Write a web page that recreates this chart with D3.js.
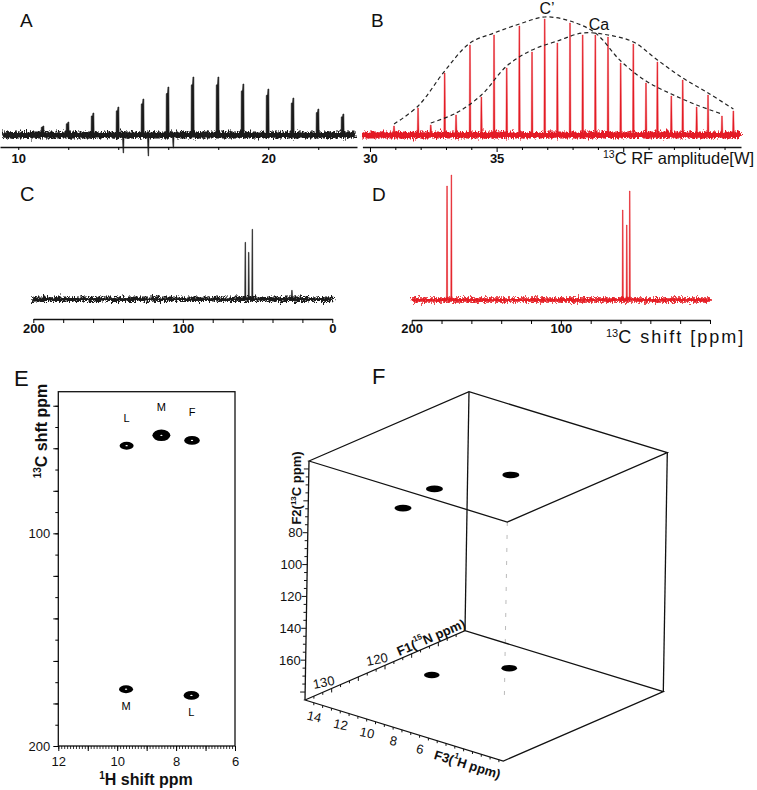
<!DOCTYPE html>
<html><head><meta charset="utf-8">
<script src="https://cdn.jsdelivr.net/npm/d3@7"></script>
<style>
body{margin:0;background:#fff;}
svg{display:block;font-family:"Liberation Sans",Arial,Helvetica,sans-serif;}
</style></head><body>
<svg id="fig" width="757" height="790"></svg>
<script>
// ===== DATA =====
// Panel A (black): peak positions and intensities (a.u.)
const aPeakPos = [11,12,13,14,15,16,17,18,19,20,21,22,23];
const aPeakInt = [9,13,22,28,36,48,58,58,51,46,37,26,21];
const aNegPos  = [14.2,15.2,16.2];
const aNegInt  = [-18,-21,-13];
const aTickLabels = [10,20];

// Panel B (red): C' and Ca peak series vs 13C RF amplitude [W]
const bCpPos = [30.95,31.9,32.95,33.95,34.9,35.9,36.9,37.9,38.9,39.9,40.9,41.9,42.9,43.9];
const bCpInt = [9,27,62,90,100,109,116,112,100,72,52,39,28,19];
const bCaPos = [32.4,33.4,34.4,35.4,36.4,37.4,38.4,39.4,40.4,41.35,42.35,43.35,44.35];
const bCaInt = [10,20,38,67,83,92,100,98,91,73,55,40,24];
const bTickLabels = [30,35];

// Panel C / D: 13C shift spectra
const cPeakPos = [58.2,55.9,53.5,27];
const cPeakInt = [57,47,70,9];
const dPeakPos = [176.3,173.4,58.5,55.8,53.8];
const dPeakInt = [114,125,90,75,109];
const cTickLabels = [200,100,0];
const dTickLabels = [200,100];

// Panel E: 2D 1H-13C peaks
const eLabels = ["L","M","F","M","L"];
const eH = [9.68,8.5,7.46,9.7,7.48];
const eC = [58.8,53.9,56.3,173.3,176.2];
const eInt = [0.9,1.15,1.0,0.9,1.0];
const eYLabels = [100,200];
const eXLabels = [12,10,8,6];

// Panel F: 3D peaks (F3 1H, F1 15N, F2 13C)
const fH = [9.26,9.35,8.04,10.33,7.6];
const fN = [131.5,125.4,114.3,122.85,115.1];
const fC = [55,52,56,175,175];
const fF2Labels = [80,100,120,140,160];
const fF1Labels = [130,120];
const fF3Labels = [14,12,10,8,6];

// ===== DRAWING =====
const svg = d3.select("#fig");
const defs = svg.append("defs");
const BLACK = "#1b1b1b", RED = "#e41d25";

function noiseFilter(id, freq, scale, seed){
  const f = defs.append("filter").attr("id",id).attr("filterUnits","userSpaceOnUse")
    .attr("x",0).attr("y",0).attr("width",757).attr("height",790);
  f.append("feTurbulence").attr("type","fractalNoise").attr("baseFrequency",freq)
    .attr("numOctaves",2).attr("seed",seed).attr("result","t");
  f.append("feDisplacementMap").attr("in","SourceGraphic").attr("in2","t")
    .attr("scale",scale).attr("xChannelSelector","R").attr("yChannelSelector","G");
}
const noiseIds = [];
[[1,"0.7 0.2",13],[2,"0.9 0.3",12],[3,"0.6 0.15",14],[4,"1.1 0.4",11],[5,"0.8 0.25",13]].forEach(([s,f,sc])=>{
  noiseFilter("n"+s,f,sc,s*3+1); noiseIds.push("n"+s);
});

function letter(t,x,y,size){
  svg.append("text").attr("x",x).attr("y",y).attr("font-size",size).attr("fill","#111").text(t);
}

function noisyBaseline(x,y,lo,hi,color,core,w,nLayers){
  svg.append("line").attr("x1",x(lo)).attr("x2",x(hi)).attr("y1",y(0)).attr("y2",y(0))
    .attr("stroke",color).attr("stroke-width",core);
  noiseIds.slice(0,nLayers).forEach(id=>{
    svg.append("line").attr("x1",x(lo)).attr("x2",x(hi)).attr("y1",y(0)).attr("y2",y(0))
      .attr("stroke",color).attr("stroke-width",w).attr("filter",`url(#${id})`);
  });
}
const line = d3.line();

// ---------- Panel A ----------
const ax = d3.scaleLinear().domain([9.27,23.55]).range([0,357]);
const ay = d3.scaleLinear().domain([0,120]).range([135,15]);
noisyBaseline(ax,ay,9.4,23.45,BLACK,4,3,5);
aPeakPos.forEach((p,i)=>{
  const x=ax(p), y0=ay(0), y1=ay(aPeakInt[i]), dh=y1-y0;
  const pts=[[x-2.2,y0],[x-2,y0+0.86*dh],[x-0.7,y0+0.88*dh],[x-0.3,y1],[x+0.6,y1],[x+0.9,y0]];
  svg.append("path").attr("d",line(pts)+"Z").attr("fill",BLACK).attr("stroke",BLACK).attr("stroke-width",0.6);
});
aNegPos.forEach((p,i)=>{
  const x=ax(p), y0=ay(0), y1=ay(aNegInt[i]);
  svg.append("path").attr("d",line([[x-0.9,y0],[x-0.2,y1],[x+0.4,y1],[x+0.9,y0]])+"Z").attr("fill",BLACK).attr("stroke",BLACK).attr("stroke-width",0.5);
});
const aAxis = svg.append("g").attr("transform","translate(0,147)")
  .call(d3.axisBottom(ax).tickValues(d3.range(10,24,2)).tickSize(3).tickSizeOuter(0).tickPadding(4)
    .tickFormat(d=>aTickLabels.includes(d)?d:""));
aAxis.selectAll("text").attr("font-size",13).attr("font-weight","bold").attr("fill","#111").attr("font-family",null);
aAxis.select(".domain").attr("stroke","#111").attr("stroke-width",1.3);
letter("A",20,27,19);

// ---------- Panel B ----------
const bx = d3.scaleLinear().domain([29.7,44.65]).range([362.4,741]);
const by = d3.scaleLinear().domain([0,120]).range([135,15]);
noisyBaseline(bx,by,29.72,44.6,RED,4,3,5);
function redPeak(p,v){
  const x=bx(p), y0=by(0), y1=by(v);
  svg.append("path").attr("d",line([[x-1.3,y0],[x-0.9,y0-3],[x-0.5,y1],[x+0.4,y1],[x+0.9,y0-3],[x+1.3,y0]])+"Z")
    .attr("fill",RED).attr("stroke",RED).attr("stroke-width",0.4);
}
bCpPos.forEach((p,i)=>redPeak(p,bCpInt[i]));
bCaPos.forEach((p,i)=>redPeak(p,bCaInt[i]));
const env = d3.line().curve(d3.curveCatmullRom.alpha(0.5));
svg.append("path").attr("d",env(bCpPos.map((p,i)=>[bx(p),by(bCpInt[i])-2])))
  .attr("fill","none").attr("stroke","#222").attr("stroke-width",1.2).attr("stroke-dasharray","4,3");
svg.append("path").attr("d",env(bCaPos.map((p,i)=>[bx(p),by(bCaInt[i])-2])))
  .attr("fill","none").attr("stroke","#222").attr("stroke-width",1.2).attr("stroke-dasharray","4,3");
svg.append("text").attr("x",547).attr("y",14).attr("text-anchor","middle").attr("font-size",16).attr("fill","#111").text("C\u2019");
svg.append("text").attr("x",599).attr("y",30).attr("text-anchor","middle").attr("font-size",16).attr("fill","#111").text("Ca");
const bAxis = svg.append("g").attr("transform","translate(0,147)")
  .call(d3.axisBottom(bx).tickValues(d3.range(30,45,1)).tickSizeOuter(0).tickPadding(4)
    .tickFormat(d=>bTickLabels.includes(d)?d:""));
bAxis.selectAll(".tick line").attr("y2",d=>d%5===0?5:3);
bAxis.selectAll("text").attr("y",7).attr("font-size",13).attr("font-weight","bold").attr("fill","#111").attr("font-family",null);
bAxis.select(".domain").attr("stroke","#111").attr("stroke-width",1.3);
const bt = svg.append("text").attr("x",603).attr("y",164).attr("font-size",16.5).attr("fill","#111");
bt.append("tspan").attr("font-size",10.5).attr("dy",-6).text("13");
bt.append("tspan").attr("dy",6).text("C RF amplitude[W]");
letter("B",371,27,19);

// ---------- Panel C ----------
const cx = d3.scaleLinear().domain([200,0]).range([33.3,332.3]);
const cy = d3.scaleLinear().domain([0,120]).range([299.3,179.3]);
noisyBaseline(cx,cy,200,0,BLACK,1.4,1.6,5);
function thinPeak(x,y0,y1,color){
  svg.append("path").attr("d",line([[x-1.6,y0],[x-0.6,y0-4],[x-0.3,y1],[x+0.3,y1],[x+0.6,y0-4],[x+1.6,y0]])+"Z")
    .attr("fill",color).attr("stroke",color).attr("stroke-width",0.5);
}
cPeakPos.forEach((p,i)=>thinPeak(cx(p),cy(0),cy(cPeakInt[i]),BLACK));
const cAxis = svg.append("g").attr("transform","translate(0,319)")
  .call(d3.axisBottom(cx).tickValues(d3.range(0,201,20)).tickSize(4).tickSizeOuter(0).tickPadding(1)
    .tickFormat(d=>cTickLabels.includes(d)?d:""));
cAxis.selectAll("text").attr("font-size",13).attr("font-weight","bold").attr("fill","#111").attr("font-family",null);
cAxis.select(".domain").attr("stroke","#111").attr("stroke-width",1.3);
letter("C",20,201,20);

// ---------- Panel D ----------
const dx = d3.scaleLinear().domain([200,0]).range([411.7,710]);
const dy = d3.scaleLinear().domain([0,120]).range([300,180]);
noisyBaseline(dx,dy,200,0,RED,1.4,1.6,5);
dPeakPos.forEach((p,i)=>thinPeak(dx(p),dy(0),dy(dPeakInt[i]),RED));
const dAxis = svg.append("g").attr("transform","translate(0,320)")
  .call(d3.axisBottom(dx).tickValues(d3.range(0,201,20)).tickSize(4).tickSizeOuter(0).tickPadding(0)
    .tickFormat(d=>dTickLabels.includes(d)?d:""));
dAxis.selectAll("text").attr("font-size",13).attr("font-weight","bold").attr("fill","#111").attr("font-family",null);
dAxis.select(".domain").attr("stroke","#111").attr("stroke-width",1.3);
const dt = svg.append("text").attr("x",606).attr("y",343).attr("font-size",18).attr("letter-spacing",2).attr("fill","#111");
dt.append("tspan").attr("font-size",11).attr("dy",-6).attr("letter-spacing",0).text("13");
dt.append("tspan").attr("dy",6).text("C shift [ppm]");
letter("D",372,201,19);

// ---------- Panel E ----------
const ex = d3.scaleLinear().domain([12,6]).range([58.3,235]);
const ey = d3.scaleLinear().domain([33.4,200]).range([391.7,746]);
svg.append("rect").attr("x",ex(12)).attr("y",ey(33.4)).attr("width",ex(6)-ex(12)).attr("height",ey(200)-ey(33.4))
  .attr("fill","none").attr("stroke","#111").attr("stroke-width",1.3);
const exMinor = svg.append("g").attr("transform",`translate(0,${ey(200)})`)
  .call(d3.axisBottom(ex).tickValues(d3.range(60,121,1).map(d=>d/10)).tickSize(3).tickFormat(""));
exMinor.select(".domain").remove();
exMinor.selectAll("line").attr("stroke-width",0.8);
const exMajor = svg.append("g").attr("transform",`translate(0,${ey(200)})`)
  .call(d3.axisBottom(ex).tickValues([6,7,8,9,10,11,12]).tickSize(5).tickPadding(6)
    .tickFormat(d=>eXLabels.includes(d)?d:""));
exMajor.select(".domain").remove();
exMajor.selectAll("text").attr("font-size",13).attr("fill","#111").attr("font-family",null);
const eyMinor = svg.append("g").attr("transform",`translate(${ex(12)},0)`)
  .call(d3.axisLeft(ey).tickValues(d3.range(40,201,10)).tickSize(3).tickFormat(""));
eyMinor.select(".domain").remove();
const eyMajor = svg.append("g").attr("transform",`translate(${ex(12)},0)`)
  .call(d3.axisLeft(ey).tickValues(d3.range(40,201,20)).tickSize(5).tickPadding(3)
    .tickFormat(d=>eYLabels.includes(d)?d:""));
eyMajor.select(".domain").remove();
eyMajor.selectAll("text").attr("font-size",13).attr("fill","#111").attr("font-family",null);
eH.forEach((h,i)=>{
  const x=ex(h), y=ey(eC[i]);
  svg.append("ellipse").attr("cx",x).attr("cy",y).attr("rx",7.8*eInt[i]).attr("ry",4.4*eInt[i]*(eInt[i]>1.1?1.15:1)).attr("fill","#000");
  svg.append("ellipse").attr("cx",x).attr("cy",y).attr("rx",1.2).attr("ry",0.6).attr("fill","#fff");
  const above = eC[i] < 100;
  svg.append("text").attr("x",x).attr("y",above? y-28 : y+17).attr("text-anchor","middle")
    .attr("dominant-baseline","central").attr("font-size",11).attr("fill","#000").text(eLabels[i]);
});
const exT = svg.append("text").attr("x",146).attr("y",785).attr("text-anchor","middle")
  .attr("font-size",16).attr("font-weight","bold").attr("fill","#111");
exT.append("tspan").attr("font-size",10).attr("dy",-6).text("1");
exT.append("tspan").attr("dy",6).text("H shift ppm");
const eyT = svg.append("text").attr("transform","translate(47,431) rotate(-90)").attr("text-anchor","middle")
  .attr("font-size",16).attr("font-weight","bold").attr("fill","#111");
eyT.append("tspan").attr("font-size",10).attr("dy",-6).text("13");
eyT.append("tspan").attr("dy",6).text("C shft ppm");
letter("E",14,386,22);

// ---------- Panel F ----------
const O=[305,700], e3=[198.3,61], e1=[160,-69.3], e2=[4,-239];
const fa = d3.scaleLinear().domain([15,0]).range([0,1]);
const fb = d3.scaleLinear().domain([135,105]).range([0,1]);
const fc = d3.scaleLinear().domain([185,35]).range([0,1]);
const P=(a,b,c)=>[O[0]+a*e3[0]+b*e1[0]+c*e2[0], O[1]+a*e3[1]+b*e1[1]+c*e2[1]];
const edge=(p,q)=>svg.append("path").attr("d",line([p,q])).attr("stroke","#111").attr("stroke-width",1.3).attr("fill","none");
svg.append("path").attr("d",line([P(1,0,1),P(1,0,0.25)])).attr("stroke","#bbb").attr("stroke-width",1).attr("stroke-dasharray","4,9").attr("fill","none");
svg.append("path").attr("d",line([P(0,0,1),P(0,1,1),P(1,1,1),P(1,0,1)])+"Z").attr("stroke","#111").attr("stroke-width",1.3).attr("fill","none");
edge(P(0,0,0),P(0,0,1)); edge(P(0,1,0),P(0,1,1)); edge(P(1,1,0),P(1,1,1));
svg.append("path").attr("d",line([P(0,0,0),P(0,1,0),P(1,1,0),P(1,0,0)])+"Z").attr("stroke","#111").attr("stroke-width",1.3).attr("fill","none");
d3.range(40,181,5).forEach(v=>{
  const p=P(0,0,fc(v)); const L=v%20===0?5:3;
  svg.append("line").attr("x1",p[0]).attr("x2",p[0]-L).attr("y1",p[1]).attr("y2",p[1]).attr("stroke","#111").attr("stroke-width",1);
});
fF2Labels.forEach(v=>{
  const p=P(0,0,fc(v));
  svg.append("text").attr("x",p[0]-5).attr("y",p[1]).attr("text-anchor","end").attr("dominant-baseline","central")
    .attr("font-size",13).attr("fill","#111").text(v);
});
d3.range(0,19).map(k=>135-k*5/3).filter(v=>v>105.5&&v<134.5).forEach(v=>{
  const p=P(0,fb(v),0); const L=Math.abs(v/5-Math.round(v/5))<0.01?4:2.5;
  svg.append("line").attr("x1",p[0]).attr("x2",p[0]).attr("y1",p[1]).attr("y2",p[1]+L).attr("stroke","#111").attr("stroke-width",1);
});
fF1Labels.forEach(v=>{
  const p=P(0,fb(v),0);
  svg.append("text").attr("transform",`translate(${p[0]-8},${p[1]-6}) rotate(-12)`).attr("text-anchor","middle")
    .attr("dominant-baseline","central").attr("font-size",13).attr("fill","#111").text(v);
});
d3.range(0,23).map(k=>15-k*2/3).filter(v=>v>0.3&&v<14.7).forEach(v=>{
  const p=P(fa(v),0,0); const L=Math.abs(v/2-Math.round(v/2))<0.01?4:2.5;
  svg.append("line").attr("x1",p[0]).attr("x2",p[0]).attr("y1",p[1]).attr("y2",p[1]+L).attr("stroke","#111").attr("stroke-width",1);
});
fF3Labels.forEach(v=>{
  const p=P(fa(v),0,0);
  svg.append("text").attr("transform",`translate(${p[0]-4},${p[1]+12.5}) rotate(12)`).attr("text-anchor","middle")
    .attr("dominant-baseline","central").attr("font-size",13).attr("fill","#111").text(v);
});
const angF1 = Math.atan2(e1[1],e1[0])*180/Math.PI, angF3 = Math.atan2(e3[1],e3[0])*180/Math.PI;
const t2 = svg.append("text").attr("transform","translate(301,488) rotate(-90)").attr("text-anchor","middle")
  .attr("font-size",13).attr("font-weight","bold").attr("fill","#111");
t2.append("tspan").text("F2(");
t2.append("tspan").attr("font-size",8).attr("dy",-5).text("13");
t2.append("tspan").attr("dy",5).text("C ppm)");
const pF1 = P(0,0.78,0);
const t1 = svg.append("text").attr("transform",`translate(${pF1[0]+1},${pF1[1]-9}) rotate(${angF1})`).attr("text-anchor","middle")
  .attr("dominant-baseline","central").attr("font-size",13).attr("font-weight","bold").attr("fill","#111");
t1.append("tspan").text("F1(");
t1.append("tspan").attr("font-size",8).attr("dy",-5).text("15");
t1.append("tspan").attr("dy",5).text("N ppm)");
const pF3 = P(0.82,0,0);
const t3 = svg.append("text").attr("transform",`translate(${pF3[0]},${pF3[1]+14}) rotate(${angF3})`).attr("text-anchor","middle")
  .attr("dominant-baseline","central").attr("font-size",13).attr("font-weight","bold").attr("fill","#111");
t3.append("tspan").text("F3(");
t3.append("tspan").attr("font-size",8).attr("dy",-5).text("1");
t3.append("tspan").attr("dy",5).text("H ppm)");
fH.forEach((h,i)=>{
  const p=P(fa(h),fb(fN[i]),fc(fC[i]));
  svg.append("ellipse").attr("cx",p[0]).attr("cy",p[1]).attr("rx",fC[i]<100?8.5:7.8).attr("ry",3.3).attr("fill","#000");
});
letter("F",372,384,22);
</script>
</body></html>
